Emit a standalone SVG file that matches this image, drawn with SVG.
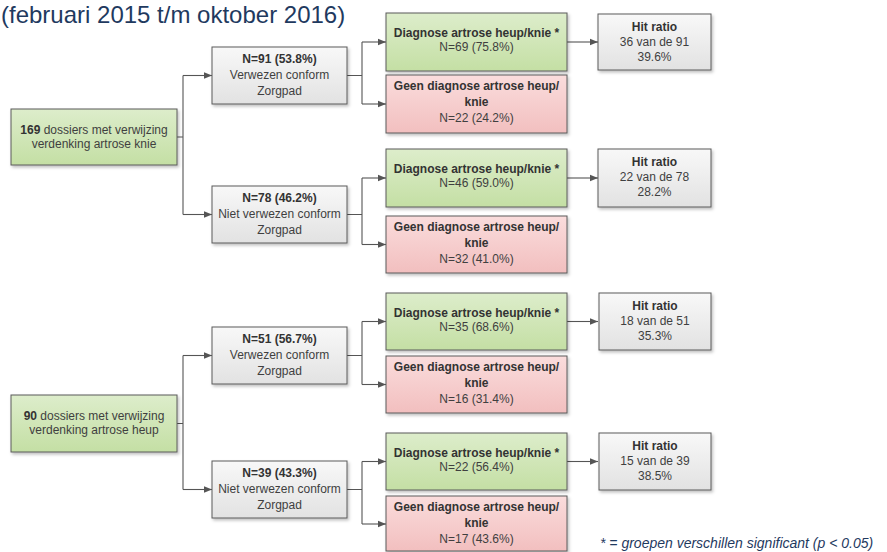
<svg xmlns="http://www.w3.org/2000/svg" width="887" height="552" viewBox="0 0 887 552">
<defs>
<linearGradient id="gGreen" x1="0" y1="0" x2="0" y2="1"><stop offset="0" stop-color="#DDEDCB"/><stop offset="1" stop-color="#C4DFA4"/></linearGradient>
<linearGradient id="gRed" x1="0" y1="0" x2="0" y2="1"><stop offset="0" stop-color="#FADCDC"/><stop offset="1" stop-color="#F2BFBF"/></linearGradient>
<linearGradient id="gGrey" x1="0" y1="0" x2="0" y2="1"><stop offset="0" stop-color="#F8F8F8"/><stop offset="1" stop-color="#E2E2E2"/></linearGradient>
<filter id="sh" x="-10%" y="-10%" width="130%" height="140%"><feDropShadow dx="1.5" dy="2" stdDeviation="1.5" flood-color="#000" flood-opacity="0.25"/></filter>
<marker id="arr" viewBox="0 0 10 10" refX="10" refY="5" markerWidth="8" markerHeight="8" markerUnits="userSpaceOnUse" orient="auto"><path d="M0,1 L10,5 L0,9 z" fill="#555"/></marker>
</defs>
<style>
.box{stroke:#5A5A5A;stroke-width:1;filter:url(#sh)}
.green{fill:url(#gGreen)}
.red{fill:url(#gRed)}
.grey{fill:url(#gGrey)}
text{font-family:"Liberation Sans",Arial,sans-serif;font-size:12px;fill:#3F3F3F;text-anchor:middle}
.b{font-weight:bold;fill:#333}
.con{stroke:#555;stroke-width:1.1;fill:none}
.title{font-size:24px;fill:#1F3A5F;text-anchor:start}
.note{font-size:14px;font-style:italic;fill:#1F3A5F;text-anchor:start}
</style>
<rect width="887" height="552" fill="#fff"/>
<text class="title" x="1" y="23">(februari 2015 t/m oktober 2016)</text>

<g id="connectors">
<path class="con" d="M177,137 H183 M183,75.5 V214.5"/>
<path class="con" d="M183,75.5 H212" marker-end="url(#arr)"/>
<path class="con" d="M183,214.5 H212" marker-end="url(#arr)"/>
<path class="con" d="M347,75.5 H362 M362,42 V104"/>
<path class="con" d="M362,42 H386" marker-end="url(#arr)"/>
<path class="con" d="M362,104 H386" marker-end="url(#arr)"/>
<path class="con" d="M347,214.5 H362 M362,178 V244.5"/>
<path class="con" d="M362,178 H386" marker-end="url(#arr)"/>
<path class="con" d="M362,244.5 H386" marker-end="url(#arr)"/>
<path class="con" d="M567,42 H598" marker-end="url(#arr)"/>
<path class="con" d="M567,178 H598" marker-end="url(#arr)"/>
<path class="con" d="M177,423.5 H183 M183,355.5 V489.5"/>
<path class="con" d="M183,355.5 H212" marker-end="url(#arr)"/>
<path class="con" d="M183,489.5 H212" marker-end="url(#arr)"/>
<path class="con" d="M347,355.5 H362 M362,321.5 V384.5"/>
<path class="con" d="M362,321.5 H386" marker-end="url(#arr)"/>
<path class="con" d="M362,384.5 H386" marker-end="url(#arr)"/>
<path class="con" d="M347,489.5 H362 M362,461.5 V524"/>
<path class="con" d="M362,461.5 H386" marker-end="url(#arr)"/>
<path class="con" d="M362,524 H386" marker-end="url(#arr)"/>
<path class="con" d="M567,321.5 H598" marker-end="url(#arr)"/>
<path class="con" d="M567,461.5 H598" marker-end="url(#arr)"/>
</g>

<g id="knie-root"><rect class="box green" x="11" y="109" width="166" height="56"/>
<text x="94" y="134"><tspan class="b">169</tspan> dossiers met verwijzing</text>
<text x="94" y="148">verdenking artrose knie</text></g>

<g id="knie-conform"><rect class="box grey" x="212" y="47" width="135" height="57"/>
<text class="b" x="279.5" y="63">N=91 (53.8%)</text>
<text x="279.5" y="79">Verwezen conform</text>
<text x="279.5" y="95">Zorgpad</text></g>

<g id="knie-conform-diag"><rect class="box green" x="386" y="13" width="181" height="58"/>
<text class="b" x="476.5" y="37">Diagnose artrose heup/knie *</text>
<text x="476.5" y="51">N=69 (75.8%)</text></g>

<g id="knie-conform-geen"><rect class="box red" x="386" y="75" width="181" height="58"/>
<text class="b" x="476.5" y="90">Geen diagnose artrose heup/</text>
<text class="b" x="476.5" y="106">knie</text>
<text x="476.5" y="122">N=22 (24.2%)</text></g>

<g id="knie-conform-hit"><rect class="box grey" x="598" y="14" width="113" height="56"/>
<text class="b" x="654.5" y="31">Hit ratio</text>
<text x="654.5" y="46">36 van de 91</text>
<text x="654.5" y="61">39.6%</text></g>

<g id="knie-niet"><rect class="box grey" x="212" y="186" width="135" height="57"/>
<text class="b" x="279.5" y="202">N=78 (46.2%)</text>
<text x="279.5" y="218">Niet verwezen conform</text>
<text x="279.5" y="234">Zorgpad</text></g>

<g id="knie-niet-diag"><rect class="box green" x="386" y="149" width="181" height="58"/>
<text class="b" x="476.5" y="173">Diagnose artrose heup/knie *</text>
<text x="476.5" y="187">N=46 (59.0%)</text></g>

<g id="knie-niet-geen"><rect class="box red" x="386" y="216" width="181" height="57"/>
<text class="b" x="476.5" y="231">Geen diagnose artrose heup/</text>
<text class="b" x="476.5" y="247">knie</text>
<text x="476.5" y="263">N=32 (41.0%)</text></g>

<g id="knie-niet-hit"><rect class="box grey" x="598" y="149" width="113" height="58"/>
<text class="b" x="654.5" y="166">Hit ratio</text>
<text x="654.5" y="181">22 van de 78</text>
<text x="654.5" y="196">28.2%</text></g>

<g id="heup-root"><rect class="box green" x="11" y="395" width="166" height="57"/>
<text x="94" y="420"><tspan class="b">90</tspan> dossiers met verwijzing</text>
<text x="94" y="434">verdenking artrose heup</text></g>

<g id="heup-conform"><rect class="box grey" x="212" y="327" width="135" height="57"/>
<text class="b" x="279.5" y="343">N=51 (56.7%)</text>
<text x="279.5" y="359">Verwezen conform</text>
<text x="279.5" y="375">Zorgpad</text></g>

<g id="heup-conform-diag"><rect class="box green" x="386" y="293" width="181" height="57"/>
<text class="b" x="476.5" y="317">Diagnose artrose heup/knie *</text>
<text x="476.5" y="331">N=35 (68.6%)</text></g>

<g id="heup-conform-geen"><rect class="box red" x="386" y="356" width="181" height="57"/>
<text class="b" x="476.5" y="371">Geen diagnose artrose heup/</text>
<text class="b" x="476.5" y="387">knie</text>
<text x="476.5" y="403">N=16 (31.4%)</text></g>

<g id="heup-conform-hit"><rect class="box grey" x="599" y="293" width="112" height="57"/>
<text class="b" x="655" y="310">Hit ratio</text>
<text x="655" y="325">18 van de 51</text>
<text x="655" y="340">35.3%</text></g>

<g id="heup-niet"><rect class="box grey" x="212" y="461" width="135" height="57"/>
<text class="b" x="279.5" y="477">N=39 (43.3%)</text>
<text x="279.5" y="493">Niet verwezen conform</text>
<text x="279.5" y="509">Zorgpad</text></g>

<g id="heup-niet-diag"><rect class="box green" x="386" y="433" width="181" height="57"/>
<text class="b" x="476.5" y="457">Diagnose artrose heup/knie *</text>
<text x="476.5" y="471">N=22 (56.4%)</text></g>

<g id="heup-niet-geen"><rect class="box red" x="386" y="496" width="181" height="55"/>
<text class="b" x="476.5" y="511">Geen diagnose artrose heup/</text>
<text class="b" x="476.5" y="527">knie</text>
<text x="476.5" y="543">N=17 (43.6%)</text></g>

<g id="heup-niet-hit"><rect class="box grey" x="599" y="433" width="112" height="57"/>
<text class="b" x="655" y="450">Hit ratio</text>
<text x="655" y="465">15 van de 39</text>
<text x="655" y="480">38.5%</text></g>

<text class="note" x="600" y="548">* = groepen verschillen significant (p &lt; 0.05)</text>
</svg>
